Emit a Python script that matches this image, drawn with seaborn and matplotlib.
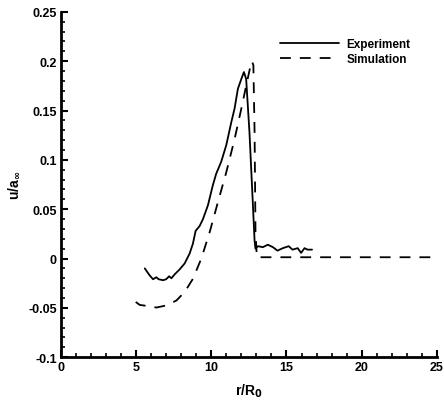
import numpy as np
import pandas as pd
import matplotlib
matplotlib.use("Agg")
import matplotlib.pyplot as plt
import seaborn as sns
from matplotlib.ticker import MultipleLocator

# measured profile (solid)
exp_r = [5.58, 5.9, 6.13, 6.35, 6.5, 6.8, 7.0, 7.2, 7.35, 7.57, 7.9, 8.23, 8.56,
         8.78, 8.96, 9.23, 9.45, 9.78, 10.1, 10.33, 10.66, 11.0, 11.33, 11.55,
         11.77, 12.0, 12.17, 12.32, 12.54, 12.77, 12.88, 12.94, 13.1, 13.43,
         13.76, 14.1, 14.4, 14.76, 15.15, 15.4, 15.75, 15.97, 16.2, 16.4, 16.7]
exp_u = [-0.010, -0.017, -0.021, -0.019, -0.021, -0.022, -0.021, -0.018, -0.020,
         -0.016, -0.011, -0.005, 0.005, 0.015, 0.028, 0.033, 0.040, 0.054, 0.074,
         0.086, 0.098, 0.115, 0.138, 0.152, 0.172, 0.182, 0.189, 0.182, 0.128,
         0.054, 0.018, 0.010, 0.0125, 0.0115, 0.014, 0.0115, 0.008, 0.0105,
         0.0125, 0.009, 0.0105, 0.0057, 0.0105, 0.009, 0.009]

# computed profile (dashed)
sim_r = [4.98, 5.24, 5.69, 6.35, 7.0, 7.68, 8.23, 8.78, 9.34, 9.9, 10.44, 11.0,
         11.55, 12.0, 12.32, 12.59, 12.7, 12.8, 12.88, 12.94, 13.03, 25.0]
sim_u = [-0.044, -0.047, -0.048, -0.0497, -0.0476, -0.0426, -0.034, -0.0206,
         0.0, 0.027, 0.057, 0.0875, 0.121, 0.152, 0.175, 0.194, 0.200, 0.196,
         0.128, 0.027, 0.0013, 0.0013]

x_ticks = [0, 5, 10, 15, 20, 25]
y_ticks = [-0.1, -0.05, 0, 0.05, 0.1, 0.15, 0.2, 0.25]
y_labels = ["-0.1", "-0.05", "0", "0.05", "0.1", "0.15", "0.2", "0.25"]

sns.set_style("ticks")
plt.rcParams["font.family"] = ["Liberation Sans", "DejaVu Sans"]
plt.rcParams["font.weight"] = "bold"
plt.rcParams["text.color"] = "black"
plt.rcParams["axes.labelcolor"] = "black"
plt.rcParams["xtick.color"] = "black"
plt.rcParams["ytick.color"] = "black"
plt.rcParams["axes.edgecolor"] = "black"

fig = plt.figure(figsize=(4.44, 4.02), dpi=100)
ax = fig.add_axes([0.137, 0.109, 0.847, 0.859])

exp_df = pd.DataFrame({"r": exp_r, "u": exp_u})
sim_df = pd.DataFrame({"r": sim_r, "u": sim_u})
sns.lineplot(data=exp_df, x="r", y="u", ax=ax, color="black", lw=1.3,
             label="Experiment", sort=False)
sns.lineplot(data=sim_df, x="r", y="u", ax=ax, color="black", lw=1.3,
             label="Simulation", sort=False)
ax.lines[1].set_dashes([6, 5])

ax.set_xlim(0, 25)
ax.set_ylim(-0.1, 0.25)
ax.set_xticks(x_ticks)
ax.set_xticklabels([str(t) for t in x_ticks])
ax.set_yticks(y_ticks)
ax.set_yticklabels(y_labels)
ax.xaxis.set_minor_locator(MultipleLocator(1))
ax.yaxis.set_minor_locator(MultipleLocator(0.01))
ax.tick_params(which="major", direction="in", length=5, width=1.5,
               labelsize=9, pad=3)
ax.tick_params(which="minor", direction="in", length=3, width=1.2)
for lab in ax.get_xticklabels() + ax.get_yticklabels():
    lab.set_fontweight("bold")
for s in ["left", "bottom"]:
    ax.spines[s].set_linewidth(2)
sns.despine(ax=ax)

ax.set_xlabel(r"r/R$_\mathbf{0}$", fontsize=10, fontweight="bold", labelpad=6)
ax.set_ylabel(r"u/a$_\mathbf{\infty}$", fontsize=10, fontweight="bold",
              labelpad=4)

leg = ax.legend(loc="upper left", bbox_to_anchor=(0.555, 0.955), frameon=False,
                handlelength=5.0, handletextpad=0.6, labelspacing=0.25,
                prop={"weight": "bold", "size": 8.5})
leg.get_lines()[1].set_dashes([6, 5])

fig.savefig("out.png", dpi=100)
